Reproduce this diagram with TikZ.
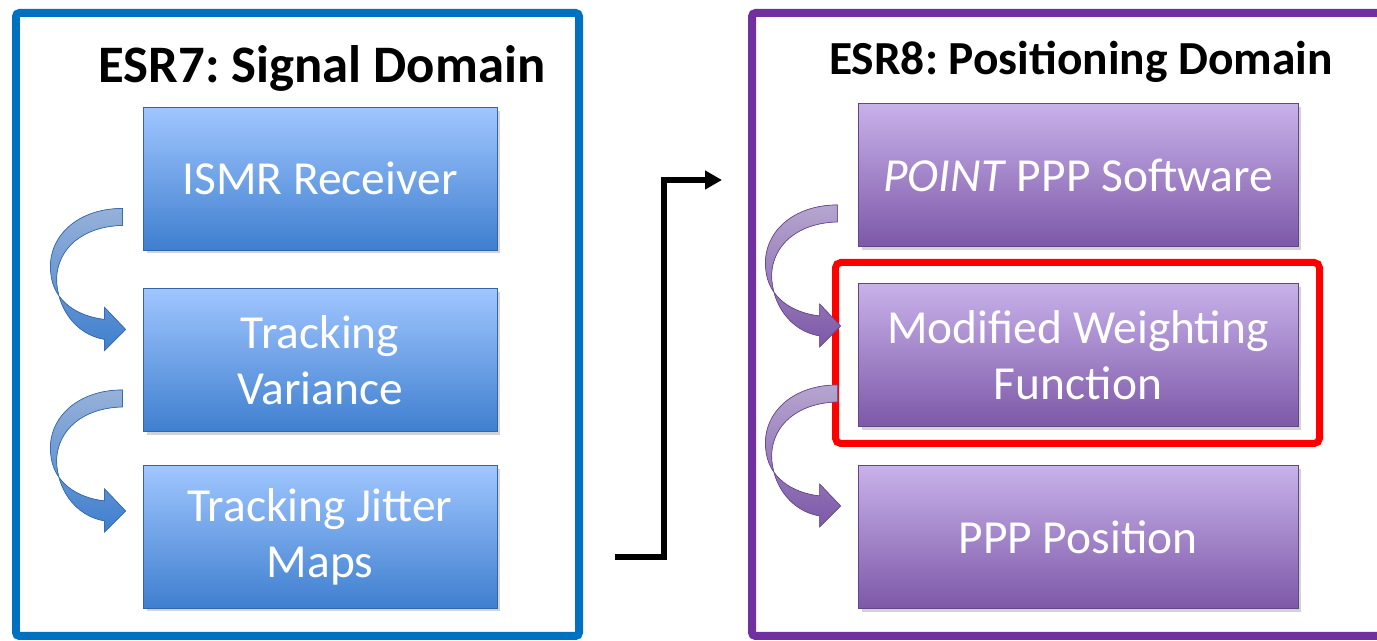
\documentclass[tikz,border=0pt]{standalone}
\usepackage{fontspec}
\setmainfont{Carlito}
\usetikzlibrary{arrows.meta,shadows,calc}
\frenchspacing

\definecolor{esrblue}{HTML}{0070C0}
\definecolor{esrpurple}{HTML}{7030A0}
\definecolor{bluetop}{HTML}{A0C6FF}
\definecolor{bluebot}{HTML}{3F7FCF}
\definecolor{purptop}{HTML}{C8B2EA}
\definecolor{purpbot}{HTML}{7D58A8}

% curved ribbon arrow hanging below the left side of a box
\newcommand\bendarrow[3]{%
\begin{scope}[shift={($(#1.south west)+(-20,-42)$)}]
\filldraw[top color=#2,bottom color=#3,draw=#3!85!black,line width=0.4pt]
(0,0) .. controls (-45,0) and (-75,28) .. (-72,63)
.. controls (-70,93) and (-45,108) .. (-18,111)
-- (-18,99) -- (3,121) -- (-18,142) -- (-18,131)
.. controls (-48,126) and (-66,98) .. (-66,70)
.. controls (-65,40) and (-40,18) .. (0,17) -- cycle;
\end{scope}}

\begin{document}
\begin{tikzpicture}
[
x=0.02cm,y=-0.02cm,
frame/.style={line width=0.16cm,rounded corners=2pt},
box/.style={minimum height=2.86cm,align=center,text=white,
draw=#1!80!black,line width=0.5pt,
font=\fontsize{27}{32}\selectfont,
drop shadow={opacity=0.35,shadow xshift=2pt,shadow yshift=-2pt}},
bluebox/.style={box=bluebot,top color=bluetop,bottom color=bluebot,
minimum width=7.08cm},
purpbox/.style={box=purpbot,top color=purptop,bottom color=purpbot,
minimum width=8.8cm},
conn/.style={line width=0.12cm,-{Triangle[length=0.34cm,width=0.36cm]}}
]
\useasboundingbox (0,0) rectangle (1377,641);

% frames
\draw[frame,esrblue] (16,13) rectangle (579,636);
\draw[frame,esrpurple] (752,13) rectangle (1400,636);

% ESR7
\node[font=\bfseries\fontsize{30}{34}\selectfont] (t7) at (322,68) {ESR7: Signal Domain};
\node[bluebox] (r1) at (320,178.5) {ISMR Receiver};
\node[bluebox] (r2) at (320,360) {Tracking\\Variance};
\node[bluebox] (r3) at (320,536.5) {Tracking Jitter\\Maps};

% ESR8
\node[font=\bfseries\fontsize{27}{31}\selectfont] (t8) at (1081,62) {ESR8: Positioning Domain};
\node[purpbox] (p1) at (1078,175) {\textit{POINT} PPP Software};
\node[purpbox] (p2) at (1078,355) {Modified Weighting\\Function};
\node[purpbox] (p3) at (1078,537) {PPP Position};
\draw[red,line width=0.14cm,rounded corners=3pt] (835.5,262.5) rectangle (1319.5,443.5);

% curved arrows
\bendarrow{r1}{bluetop!70!gray}{bluebot}
\bendarrow{r2}{bluetop!70!gray}{bluebot}
\bendarrow{p1}{purptop!75!gray}{purpbot}
\bendarrow{p2}{purptop!75!gray}{purpbot}

% link between domains
\coordinate (out) at (615,557);
\coordinate (bend) at (664,557);
\coordinate (in) at (722,180);
\draw[conn] (out) -- (bend) |- (in);
\end{tikzpicture}
\end{document}
